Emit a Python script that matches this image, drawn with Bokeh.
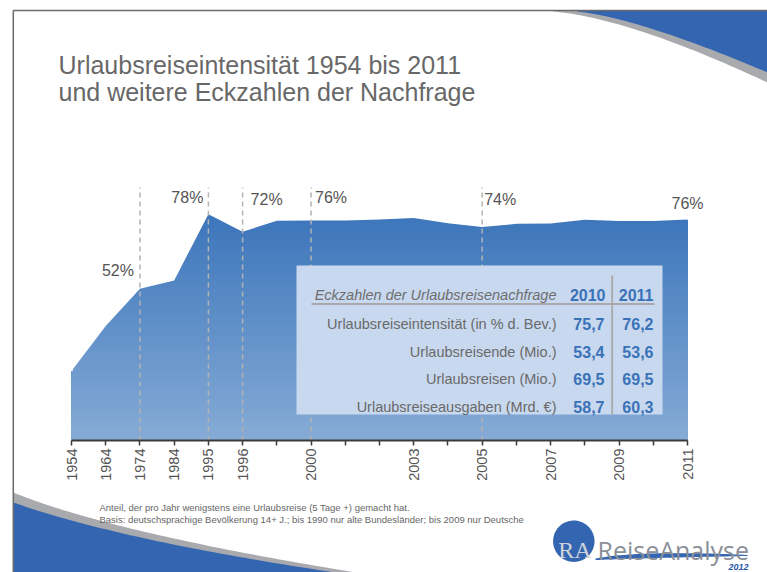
import numpy as np
from bokeh.plotting import figure
from bokeh.models import Range1d, FixedTicker, Label
from bokeh.core.properties import value
from bokeh.embed import file_html
from bokeh.resources import INLINE

# ---------------- data ----------------
years = ["1954", "1964", "1974", "1984", "1995", "1996", "1998", "2000", "2001", "2002",
         "2003", "2004", "2005", "2006", "2007", "2008", "2009", "2010", "2011"]
intensity = [24.0, 39.5, 52.3, 55.2, 78.0, 72.0, 75.8, 75.9, 75.9, 76.2,
             76.7, 74.9, 73.6, 74.7, 74.8, 76.1, 75.7, 75.7, 76.2]
tick_labels = ["1954", "1964", "1974", "1984", "1995", "1996", "2000", "2003",
               "2005", "2007", "2009", "2011"]
marked_years = ["1974", "1995", "1996", "2000", "2005"]
pct_label_years = ["1974", "1995", "1996", "2000", "2005", "2011"]
pct_labels = ["52%", "78%", "72%", "76%", "74%", "76%"]

title_lines = ["Urlaubsreiseintensität 1954 bis 2011",
               "und weitere Eckzahlen der Nachfrage"]
table_title = "Eckzahlen der Urlaubsreisenachfrage"
table_years = ["2010", "2011"]
table_rows = ["Urlaubsreiseintensität (in % d. Bev.)", "Urlaubsreisende (Mio.)",
              "Urlaubsreisen (Mio.)", "Urlaubsreiseausgaben (Mrd. €)"]
table_2010 = [75.7, 53.4, 69.5, 58.7]
table_2011 = [76.2, 53.6, 69.5, 60.3]
footnotes = ["Anteil, der pro Jahr wenigstens eine Urlaubsreise (5 Tage +) gemacht hat.",
             "Basis: deutschsprachige Bevölkerung 14+ J.; bis 1990 nur alte Bundesländer; bis 2009 nur Deutsche"]
logo_text = "ReiseAnalyse"
logo_mark = "RA"
logo_year = "2012"

# ---------------- layout (page pixels) ----------------
W, H = 767, 572
X0_PAGE, X1_PAGE = 71, 687
Y0_PAGE = 440
PX_PER_PCT = 2.9
n = len(years)
ppx = (X1_PAGE - X0_PAGE) / (n - 1)


def dx(X):
    return (np.asarray(X, dtype=float) - X0_PAGE) / ppx


def dy(Y):
    return (Y0_PAGE - np.asarray(Y, dtype=float)) / PX_PER_PCT


def L(a):
    return [float(v) for v in np.atleast_1d(a)]


def qbez(p0, p1, p2, m=50):
    t = np.linspace(0, 1, m)[:, None]
    pts = (1 - t) ** 2 * np.array(p0) + 2 * (1 - t) * t * np.array(p1) + t ** 2 * np.array(p2)
    return list(pts[:, 0]), list(pts[:, 1])


FONT = value("Liberation Sans")
BLUE = "#3465b0"
NUM_BLUE = "#3a72b8"
SHADOW = "#a9aaae"
BORDER = "#6b6b6b"

p = figure(width=W, height=H,
           x_range=Range1d(float(dx(0)), float(dx(W))),
           y_range=Range1d(float(dy(H)), float(dy(0))),
           output_backend="svg", toolbar_location=None, y_axis_location=None,
           min_border_left=0, min_border_right=0, min_border_top=0,
           min_border_bottom=0, background_fill_color="white",
           border_fill_color="white", outline_line_color=None)
p.grid.visible = False

idx = list(range(n))

# ---------------- gradient area ----------------
top_c = np.array([0x3a, 0x74, 0xba], dtype=float)
bot_c = np.array([0x86, 0xab, 0xd6], dtype=float)
gmax = 80
levels = np.arange(gmax, 0, -1)
cols = []
for lv in levels:
    f = (lv - 0.5) / gmax
    c = bot_c + (top_c - bot_c) * f
    cols.append("#%02x%02x%02x" % tuple(int(round(v)) for v in c))
p.quad(left=0, right=n - 1, bottom=0, top=L(levels), fill_color=cols, line_color=None)
# white mask above the curve, plus white edges hiding anti-alias seams
p.varea(x=idx, y1=intensity, y2=gmax + 3, fill_color="white")
p.segment(x0=[0, n - 1], x1=[0, n - 1], y0=[intensity[0], intensity[-1]],
          y1=[gmax + 3, gmax + 3], line_color="white", line_width=2.5)

# ---------------- dashed markers ----------------
mx = [years.index(y) for y in marked_years]
p.segment(x0=mx, y0=0, x1=mx, y1=float(dy(187)), line_color="#b3b3b3",
          line_width=1.5, line_dash="5 4")

pct_layout = [("right", -6, 270), ("right", -5, 197), ("left", 8, 199),
              ("left", 4, 197), ("left", 2, 199), ("center", 0, 203)]
for yr, txt, (al, off, base) in zip(pct_label_years, pct_labels, pct_layout):
    p.add_layout(Label(x=years.index(yr), y=float(dy(base)), x_offset=off, text=txt,
                       text_align=al, text_baseline="alphabetic", text_font="Liberation Sans",
                       text_font_size="16px", text_color="#555555"))

# ---------------- table ----------------
p.quad(left=float(dx(296)), right=float(dx(662)), top=float(dy(265)), bottom=float(dy(414)),
       fill_color="#c8d8ee", line_color=None)
p.segment(x0=float(dx(311)), x1=float(dx(654)), y0=float(dy(303.5)), y1=float(dy(303.5)),
          line_color="#a9a9a9", line_width=1.8)
p.segment(x0=float(dx(611.7)), x1=float(dx(611.7)), y0=float(dy(275)), y1=float(dy(414)),
          line_color="#a9a9a9", line_width=1.8)
p.text(x=L(dx(556)), y=L(dy(294.3)), text=[table_title], text_align="right",
       text_baseline="alphabetic", text_font=FONT, text_font_style="italic",
       text_font_size="14.5px", text_color="#6e6e6e")
p.text(x=L(dx([605, 653])), y=L(dy([294.3, 294.3])), text=table_years, text_align="right",
       text_baseline="alphabetic", text_font=FONT, text_font_style="bold",
       text_font_size="16px", text_color=NUM_BLUE)
row_y = [float(dy(323.3 + i * 27.8)) for i in range(len(table_rows))]
nr = len(table_rows)
p.text(x=L(dx([556] * nr)), y=row_y, text=table_rows, text_align="right",
       text_baseline="alphabetic", text_font=FONT, text_font_size="14.5px",
       text_color="#6a6a6a")
fmt = lambda v: ("%.1f" % v).replace(".", ",")
p.text(x=L(dx([604] * nr)), y=row_y, text=[fmt(v) for v in table_2010],
       text_align="right", text_baseline="alphabetic", text_font=FONT,
       text_font_style="bold", text_font_size="16px", text_color=NUM_BLUE)
p.text(x=L(dx([653] * nr)), y=row_y, text=[fmt(v) for v in table_2011],
       text_align="right", text_baseline="alphabetic", text_font=FONT,
       text_font_style="bold", text_font_size="16px", text_color=NUM_BLUE)

# ---------------- title ----------------
p.text(x=L(dx([58, 58])), y=L(dy([64.3, 91.7])), text=title_lines, text_align="left",
       text_baseline="alphabetic", text_font=FONT, text_font_size="25px",
       text_color="#686868")

# ---------------- decorations ----------------
gx, gy = qbez((553, 11), (630, 18), (767, 82))
p.patch(x=L(dx(gx + [767, 553])), y=L(dy(gy + [10, 10])), fill_color=SHADOW, line_color=None)
bx, by = qbez((577, 11), (640, 18), (767, 72))
p.patch(x=L(dx(bx + [767, 577])), y=L(dy(by + [10, 10])), fill_color=BLUE, line_color=None)

gx2, gy2 = qbez((13, 492), (110, 532), (355, 572))
p.patch(x=L(dx(gx2 + [355, 13])), y=L(dy(gy2 + [580, 580])), fill_color=SHADOW, line_color=None)
bx2, by2 = qbez((13, 502), (120, 540), (335, 572))
p.patch(x=L(dx(bx2 + [335, 13])), y=L(dy(by2 + [580, 580])), fill_color=BLUE, line_color=None)

p.segment(x0=L(dx([12.8, 12.8])), x1=L(dx([767, 12.8])), y0=L(dy([10, 10])), y1=L(dy([10, 575])),
          line_color=BORDER, line_width=1.5)

# footnotes
p.text(x=L(dx([99, 99])), y=L(dy([507, 518.8])), text=footnotes, text_align="left",
       text_baseline="alphabetic", text_font=FONT, text_font_size="9.5px", text_color="#666666")

# logo
ang = np.linspace(0, 2 * np.pi, 90)
cx, cy, r = 573.3, 540.7, 20.7
p.patch(x=L(dx(cx + r * np.cos(ang))), y=L(dy(cy + r * np.sin(ang))), fill_color=BLUE,
        line_color=None)
ux, uy = qbez((595, 558), (640, 549.5), (747, 554.5))
lx, ly = qbez((747, 555.5), (660, 557), (595, 559.5))
p.patch(x=L(dx(ux + lx)), y=L(dy(uy + ly)), fill_color=BLUE, line_color=None)
p.text(x=L(dx(574.5)), y=L(dy(549.3)), text=[logo_mark], text_align="center",
       text_baseline="alphabetic", text_font=value("Liberation Serif"),
       text_font_size="24px", text_color="#cfd3da")
p.text(x=L(dx(597)), y=L(dy(549.3)), text=[logo_text], text_align="left",
       text_baseline="alphabetic", text_font=value("Open Sans"),
       text_font_size="25px", text_color="#8b8f98")
p.text(x=L(dx(748)), y=L(dy(566.5)), text=[logo_year], text_align="right",
       text_baseline="alphabetic", text_font=FONT,
       text_font_style="bold italic", text_font_size="9px", text_color="#2a5aa8")

# ---------------- axis (fixed at 0 %) ----------------
ax = p.xaxis[0]
ax.fixed_location = 0
ax.ticker = FixedTicker(ticks=idx)
ax.major_label_overrides = {i: (y if y in tick_labels else "") for i, y in enumerate(years)}
ax.bounds = (0, n - 1)
ax.major_label_orientation = np.pi / 2
ax.axis_line_color = "#3a3a3a"
ax.axis_line_width = 2
ax.major_tick_line_color = "#3a3a3a"
ax.major_tick_line_width = 1.5
ax.major_tick_out = 5
ax.major_tick_in = 0
ax.minor_tick_line_color = None
ax.major_label_text_font = "Liberation Sans"
ax.major_label_text_font_size = "14.5px"
ax.major_label_text_color = "#555555"
ax.major_label_standoff = 3

open("out.html", "w").write(file_html(p, INLINE))
